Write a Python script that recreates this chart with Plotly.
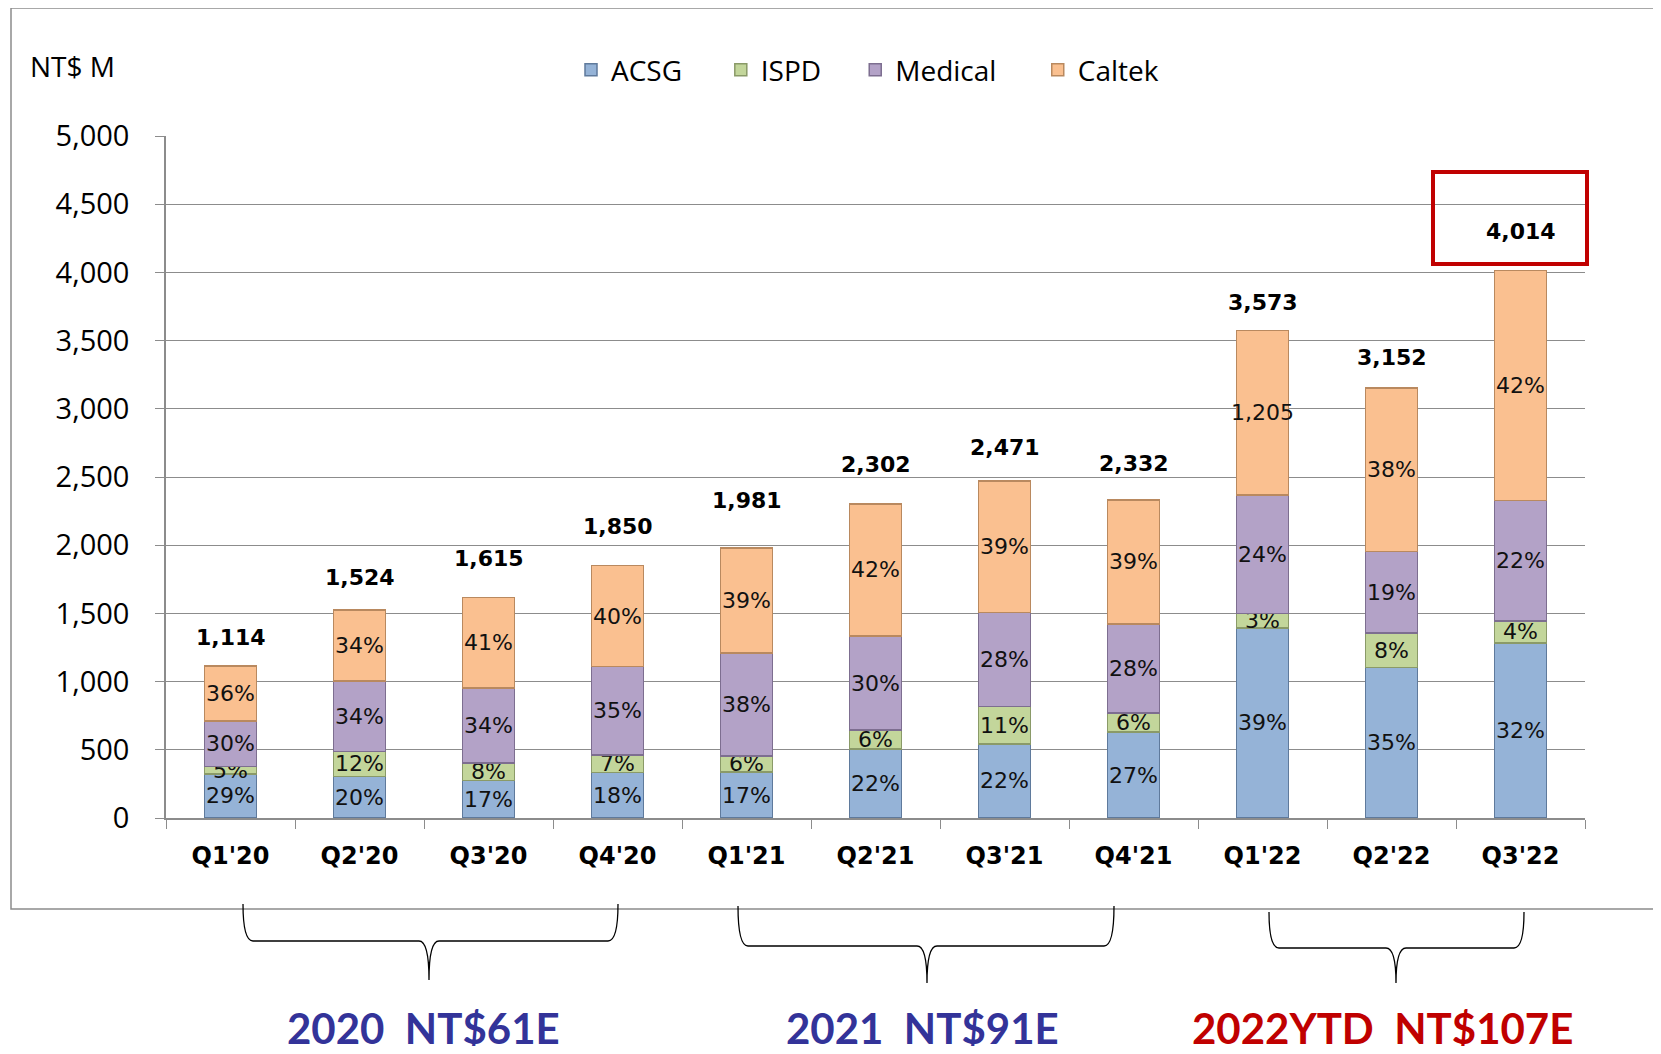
import plotly.graph_objects as go

# ---------------- data ----------------
quarters = ["Q1'20", "Q2'20", "Q3'20", "Q4'20", "Q1'21", "Q2'21",
            "Q3'21", "Q4'21", "Q1'22", "Q2'22", "Q3'22"]
acsg = [323, 305, 275, 333, 337, 506, 544, 630, 1393, 1103, 1284]
ispd = [56, 183, 129, 130, 119, 138, 272, 140, 107, 252, 161]
medical = [334, 518, 549, 648, 752, 691, 692, 653, 868, 599, 883]
caltek = [401, 518, 662, 739, 773, 967, 963, 909, 1205, 1198, 1686]
totals = [1114, 1524, 1615, 1850, 1981, 2302, 2471, 2332, 3573, 3152, 4014]

acsg_lbl = ["29%", "20%", "17%", "18%", "17%", "22%", "22%", "27%", "39%", "35%", "32%"]
ispd_lbl = ["5%", "12%", "8%", "7%", "6%", "6%", "11%", "6%", "3%", "8%", "4%"]
med_lbl = ["30%", "34%", "34%", "35%", "38%", "30%", "28%", "28%", "24%", "19%", "22%"]
cal_lbl = ["36%", "34%", "41%", "40%", "39%", "42%", "39%", "39%", "1,205", "38%", "42%"]

series_names = ["ACSG", "ISPD", "Medical", "Caltek"]
group_labels = ["2020  NT$61E", "2021  NT$91E", "2022YTD  NT$107E"]

# ---------------- styles ----------------
colors = ["#95B3D7", "#C3D69B", "#B3A2C7", "#FAC090"]
edge = ["#5f7a9c", "#8a9a68", "#7d6e90", "#b9895f"]
legend_pad = ["\u00a0" * 4 + "\u2009", "\u00a0" * 4, "\u00a0" * 5, ""]
total_offsets_px = [29, 33, 39, 39, 47, 40, 33, 36, 28, 31, 39]

OFF = 8  # page body margin
W, H = 1661 - 2 * OFF, 1054 - 2 * OFF
L, T = 166 - OFF, 136 - OFF
PR, PB = 1585 - OFF, 818 - OFF
R, B = W - PR, H - PB
PW, PH = PR - L, PB - T


def px(x):
    return (x - OFF - L) / PW


def py(y):
    return (PB - (y - OFF)) / PH


fig = go.Figure()
for name, vals, lbl, c, e, pad in zip(series_names, [acsg, ispd, medical, caltek],
                                      [acsg_lbl, ispd_lbl, med_lbl, cal_lbl], colors, edge,
                                      legend_pad):
    fig.add_trace(go.Bar(
        x=quarters, y=vals, name=name + pad, text=lbl,
        textposition="inside", insidetextanchor="middle", textangle=0,
        textfont=dict(family="DejaVu Sans", size=22, color="#111111"),
        marker=dict(color=c, line=dict(color=e, width=1.5)),
        hoverinfo="x+y+name",
    ))

annotations = []
for i, (q, t) in enumerate(zip(quarters, totals)):
    annotations.append(dict(
        x=q, y=t, xref="x", yref="y", text=f"{t:,}", showarrow=False,
        yanchor="middle", yshift=total_offsets_px[i],
        font=dict(family="DejaVu Sans", size=22, color="#000000", weight="bold"),
    ))

annotations.append(dict(
    x=px(28), y=py(66), xref="paper", yref="paper", text="NT$ M", showarrow=False,
    xanchor="left", yanchor="middle",
    font=dict(family="Open Sans", size=28, color="#000000"),
))

group_pos = [(423, 1028, "#333399"), (922, 1028, "#333399"), (1382, 1028, "#C00000")]
for lab, (gx, gy, gc) in zip(group_labels, group_pos):
    annotations.append(dict(
        x=px(gx), y=py(gy), xref="paper", yref="paper", text=lab.replace("  ", "\u00a0\u00a0"),
        showarrow=False, xanchor="center", yanchor="middle",
        font=dict(family="Lato", size=42, color=gc, weight="bold"),
    ))

shapes = []
# outer chart border
shapes.append(dict(type="rect", xref="paper", yref="paper",
                   x0=px(11), x1=px(1720), y0=py(909), y1=py(8),
                   line=dict(color="#8c8c8c", width=1.5), layer="below"))

# highlight box around the last total
shapes.append(dict(type="rect", xref="paper", yref="paper",
                   x0=px(1433), x1=px(1587), y0=py(264), y1=py(172),
                   line=dict(color="#C00000", width=4)))


def brace(x0, x1, xt, ytop, yh, ybot, r=10):
    p = (f"M {px(x0)},{py(ytop)} Q {px(x0)},{py(yh)} {px(x0 + r)},{py(yh)} "
         f"L {px(xt - r)},{py(yh)} Q {px(xt)},{py(yh)} {px(xt)},{py(ybot)} "
         f"Q {px(xt)},{py(yh)} {px(xt + r)},{py(yh)} "
         f"L {px(x1 - r)},{py(yh)} Q {px(x1)},{py(yh)} {px(x1)},{py(ytop)}")
    return dict(type="path", xref="paper", yref="paper", path=p,
                line=dict(color="#000000", width=1.3))


shapes.append(brace(243, 618, 429, 904, 941, 980))
shapes.append(brace(738, 1114, 927, 906, 946, 983))
shapes.append(brace(1269, 1524, 1396, 912, 948, 983))

fig.update_layout(
    width=W, height=H,
    margin=dict(l=L, r=R, t=T, b=B),
    barmode="stack", bargap=0.6,
    plot_bgcolor="white", paper_bgcolor="white",
    uniformtext=dict(minsize=22, mode="show"),
    showlegend=True,
    legend=dict(orientation="h", x=px(571), y=py(70), xanchor="left", yanchor="middle",
                font=dict(family="Open Sans", size=28, color="#000000"),
                bgcolor="rgba(0,0,0,0)", traceorder="normal"),
    annotations=annotations,
    shapes=shapes,
    xaxis=dict(
        type="category", range=[-0.5, len(quarters) - 0.5], autorange=False,
        showgrid=False, showline=True, linecolor="#8c8c8c", linewidth=1.5,
        ticks="outside", tickson="boundaries", ticklen=9, tickcolor="#8c8c8c",
        tickfont=dict(family="DejaVu Sans", size=24, color="#000000", weight="bold"),
        ticklabelstandoff=15,
    ),
    yaxis=dict(
        range=[0, 5000], autorange=False,
        tickvals=[0, 500, 1000, 1500, 2000, 2500, 3000, 3500, 4000, 4500, 5000],
        tickformat=",", showgrid=True, gridcolor="#8c8c8c", gridwidth=1,
        showline=True, linecolor="#8c8c8c", linewidth=1.5,
        ticks="outside", ticklen=9, tickcolor="#8c8c8c",
        tickfont=dict(family="Open Sans", size=29, color="#000000"),
        ticklabelstandoff=20, zeroline=False,
    ),
)

fig.write_html("out.html")
